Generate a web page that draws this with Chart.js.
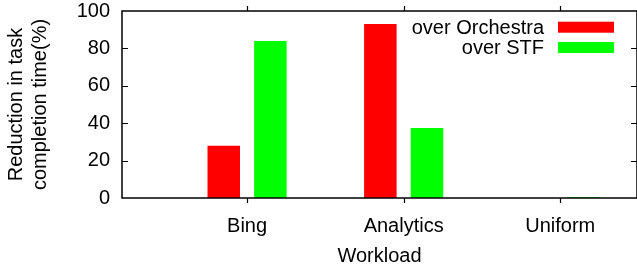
<!DOCTYPE html>
<html><head><meta charset="utf-8">
<script src="https://cdn.jsdelivr.net/npm/chart.js@4/dist/chart.umd.min.js"></script>
<style>html,body{margin:0;padding:0;background:#fff}canvas{display:block}</style>
</head><body>
<canvas id="c" width="637" height="268"></canvas>
<script>
const categories = ['Bing', 'Analytics', 'Uniform'];
const overOrchestra = [28, 93, 0];
const overSTF = [84, 37.5, 0.4];
const yTicks = [0, 20, 40, 60, 80, 100];
const seriesLabels = ['over Orchestra', 'over STF'];

const FONT = "'Liberation Sans', Arial, sans-serif";

const framePlugin = {
  id: 'frame',
  afterDatasetsDraw(chart) {
    const {ctx, chartArea: a, scales: {x, y}} = chart;
    ctx.save();
    ctx.strokeStyle = '#000';
    ctx.lineWidth = 1.5;
    ctx.strokeRect(a.left, a.top, a.right - a.left, a.bottom - a.top);
    ctx.lineWidth = 1.2;
    ctx.beginPath();
    y.ticks.forEach(t => {
      if (t.value <= y.min || t.value >= y.max) return;
      const py = Math.round(y.getPixelForValue(t.value)) + 0.5;
      ctx.moveTo(a.left, py); ctx.lineTo(a.left + 6, py);
      ctx.moveTo(a.right, py); ctx.lineTo(a.right - 6, py);
    });
    x.ticks.forEach(t => {
      const px = Math.round(x.getPixelForValue(t.value)) + 0.5;
      ctx.moveTo(px, a.bottom); ctx.lineTo(px, a.bottom + 5);
      ctx.moveTo(px, a.top); ctx.lineTo(px, a.top - 5);
    });
    ctx.stroke();
    // legend
    ctx.font = '20px ' + FONT;
    ctx.textAlign = 'right';
    ctx.textBaseline = 'alphabetic';
    const baselines = [34, 54.3];
    chart.data.datasets.forEach((ds, i) => {
      ctx.fillStyle = '#000';
      ctx.fillText(ds.label, 544, baselines[i]);
      ctx.fillStyle = ds.backgroundColor;
      ctx.fillRect(558, baselines[i] - 12.3, 56, 11);
    });
    ctx.restore();
  }
};

new Chart(document.getElementById('c'), {
  type: 'bar',
  data: {
    datasets: [
      { label: seriesLabels[0], data: categories.map((c, i) => ({x: i + 1, y: overOrchestra[i]})), backgroundColor: '#ff0000', borderWidth: 0 },
      { label: seriesLabels[1], data: categories.map((c, i) => ({x: i + 1, y: overSTF[i]})), backgroundColor: '#00ff00', borderWidth: 0 }
    ]
  },
  plugins: [framePlugin],
  options: {
    responsive: false,
    animation: false,
    devicePixelRatio: 1,
    categoryPercentage: 0.5955,
    barPercentage: 0.697,
    layout: { padding: { top: 11, right: 0, bottom: 0, left: 0 } },
    plugins: { legend: { display: false }, tooltip: { enabled: false } },
    scales: {
      x: {
        type: 'linear',
        min: 0.2013,
        max: 3.49,
        offset: false,
        grid: { display: false, drawTicks: false },
        border: { display: false },
        afterBuildTicks: s => { s.ticks = categories.map((c, i) => ({value: i + 1})); },
        afterFit: s => { s.height = 70; s.paddingLeft = 0; s.paddingRight = 0; },
        ticks: {
          padding: 16,
          color: '#000',
          font: { family: FONT, size: 20 },
          callback: v => categories[v - 1] || ''
        },
        title: { display: true, text: 'Workload', color: '#000', font: { family: FONT, size: 20 }, padding: { top: 0, bottom: 0 } }
      },
      y: {
        min: 0, max: 100,
        grid: { display: false, drawTicks: false },
        border: { display: false },
        afterBuildTicks: s => { s.ticks = yTicks.map(v => ({value: v})); },
        afterFit: s => { s.width = 122; s.paddingTop = 0; s.paddingBottom = 0; },
        ticks: { padding: 12, color: '#000', font: { family: FONT, size: 20 } },
        title: { display: true, text: ['Reduction in task', 'completion time(%)'], color: '#000', font: { family: FONT, size: 20, lineHeight: 1.2 }, padding: { top: 4.5, bottom: 0 } }
      }
    }
  }
});
</script>
</body></html>
